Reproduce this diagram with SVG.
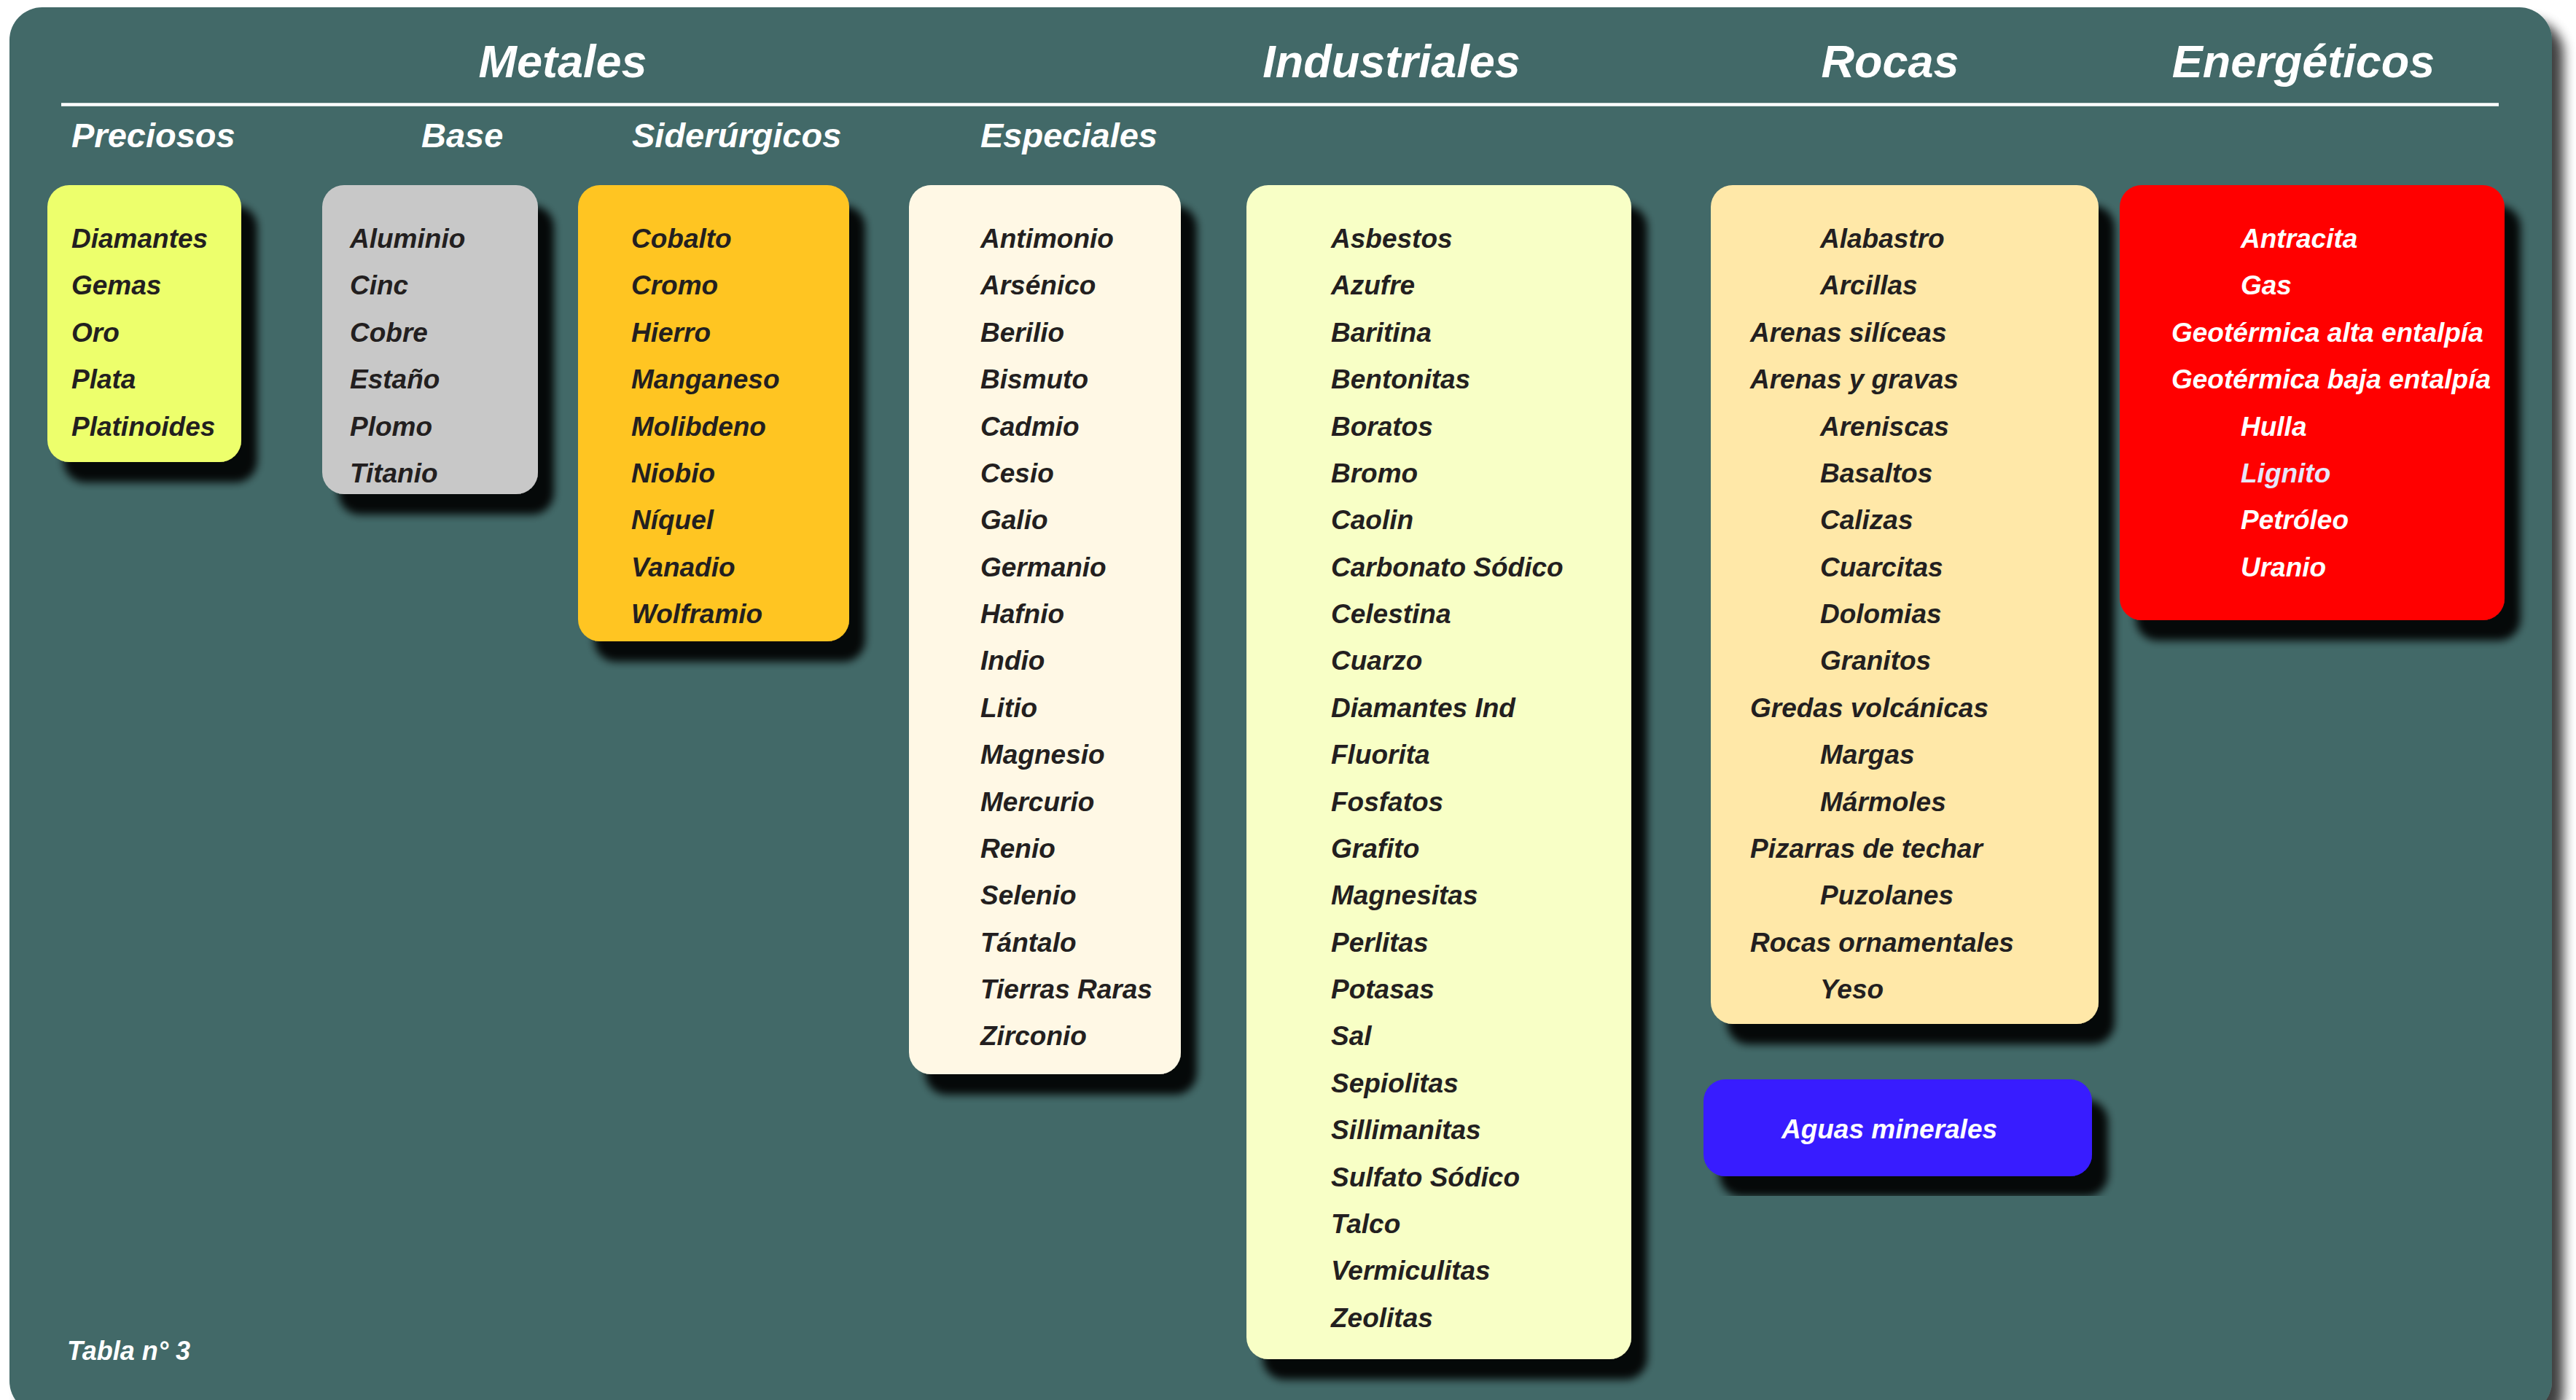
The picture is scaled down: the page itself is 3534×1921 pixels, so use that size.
<svg xmlns="http://www.w3.org/2000/svg" width="3534" height="1921" viewBox="0 0 3534 1921">
<style>
  text { font-family: "Liberation Sans", Arial, sans-serif; font-weight: bold; font-style: italic; }
  .h1 { font-size: 63px; fill: #ffffff; text-anchor: middle; }
  .h2 { font-size: 47px; fill: #ffffff; }
  .it { font-size: 37px; fill: #231f20; }
  .itw { font-size: 37px; fill: #ffffff; }
  .note { font-size: 36px; fill: #ffffff; }
  .box { filter: url(#sh); }
</style>
<defs>
  <filter id="sh" x="-10%" y="-10%" width="130%" height="130%">
    <feGaussianBlur in="SourceAlpha" stdDeviation="6"/>
    <feOffset dx="22" dy="28" result="o"/>
    <feComponentTransfer><feFuncA type="linear" slope="0.92"/></feComponentTransfer>
    <feMerge><feMergeNode/><feMergeNode in="SourceGraphic"/></feMerge>
  </filter>
  <filter id="psh" x="-5%" y="-5%" width="110%" height="110%">
    <feGaussianBlur in="SourceAlpha" stdDeviation="8"/>
    <feOffset dx="16" dy="18"/>
    <feComponentTransfer><feFuncA type="linear" slope="0.75"/></feComponentTransfer>
    <feMerge><feMergeNode/><feMergeNode in="SourceGraphic"/></feMerge>
  </filter>
</defs>
<rect width="3534" height="1921" fill="#ffffff"/>
<g id="panel">
  <rect x="13" y="10" width="3488" height="1930" rx="45" ry="45" fill="#426968" filter="url(#psh)"/>
</g>
<g id="headers">
  <text class="h1" x="772" y="106">Metales</text>
  <text class="h1" x="1909" y="106">Industriales</text>
  <text class="h1" x="2593" y="106">Rocas</text>
  <text class="h1" x="3160" y="106">Energéticos</text>
  <line x1="84" y1="143.5" x2="3428" y2="143.5" stroke="#ffffff" stroke-width="4.5"/>
  <text class="h2" x="98" y="202">Preciosos</text>
  <text class="h2" x="578" y="202">Base</text>
  <text class="h2" x="867" y="202">Siderúrgicos</text>
  <text class="h2" x="1345" y="202">Especiales</text>
</g>
<g id="connectors"></g>
<g id="preciosos">
  <rect class="box" x="65" y="254" width="266" height="380" rx="30" fill="#edff6c"/>
  <text class="it" y="340">
    <tspan x="98">Diamantes</tspan><tspan x="98" dy="64.38">Gemas</tspan><tspan x="98" dy="64.38">Oro</tspan><tspan x="98" dy="64.38">Plata</tspan><tspan x="98" dy="64.38">Platinoides</tspan>
  </text>
</g>
<g id="base">
  <rect class="box" x="442" y="254" width="296" height="424" rx="30" fill="#c8c8c8"/>
  <text class="it" y="340">
    <tspan x="480">Aluminio</tspan><tspan x="480" dy="64.38">Cinc</tspan><tspan x="480" dy="64.38">Cobre</tspan><tspan x="480" dy="64.38">Estaño</tspan><tspan x="480" dy="64.38">Plomo</tspan><tspan x="480" dy="64.38">Titanio</tspan>
  </text>
</g>
<g id="siderurgicos">
  <rect class="box" x="793" y="254" width="372" height="626" rx="30" fill="#ffc520"/>
  <text class="it" y="340">
    <tspan x="866">Cobalto</tspan><tspan x="866" dy="64.38">Cromo</tspan><tspan x="866" dy="64.38">Hierro</tspan><tspan x="866" dy="64.38">Manganeso</tspan><tspan x="866" dy="64.38">Molibdeno</tspan><tspan x="866" dy="64.38">Niobio</tspan><tspan x="866" dy="64.38">Níquel</tspan><tspan x="866" dy="64.38">Vanadio</tspan><tspan x="866" dy="64.38">Wolframio</tspan>
  </text>
</g>
<g id="especiales">
  <rect class="box" x="1247" y="254" width="373" height="1220" rx="30" fill="#fff8e5"/>
  <text class="it" y="340">
    <tspan x="1345">Antimonio</tspan><tspan x="1345" dy="64.38">Arsénico</tspan><tspan x="1345" dy="64.38">Berilio</tspan><tspan x="1345" dy="64.38">Bismuto</tspan><tspan x="1345" dy="64.38">Cadmio</tspan><tspan x="1345" dy="64.38">Cesio</tspan><tspan x="1345" dy="64.38">Galio</tspan><tspan x="1345" dy="64.38">Germanio</tspan><tspan x="1345" dy="64.38">Hafnio</tspan><tspan x="1345" dy="64.38">Indio</tspan><tspan x="1345" dy="64.38">Litio</tspan><tspan x="1345" dy="64.38">Magnesio</tspan><tspan x="1345" dy="64.38">Mercurio</tspan><tspan x="1345" dy="64.38">Renio</tspan><tspan x="1345" dy="64.38">Selenio</tspan><tspan x="1345" dy="64.38">Tántalo</tspan><tspan x="1345" dy="64.38">Tierras Raras</tspan><tspan x="1345" dy="64.38">Zirconio</tspan>
  </text>
</g>
<g id="industriales">
  <rect class="box" x="1710" y="254" width="528" height="1611" rx="30" fill="#f8ffc6"/>
  <text class="it" y="340">
    <tspan x="1826">Asbestos</tspan><tspan x="1826" dy="64.38">Azufre</tspan><tspan x="1826" dy="64.38">Baritina</tspan><tspan x="1826" dy="64.38">Bentonitas</tspan><tspan x="1826" dy="64.38">Boratos</tspan><tspan x="1826" dy="64.38">Bromo</tspan><tspan x="1826" dy="64.38">Caolin</tspan><tspan x="1826" dy="64.38">Carbonato Sódico</tspan><tspan x="1826" dy="64.38">Celestina</tspan><tspan x="1826" dy="64.38">Cuarzo</tspan><tspan x="1826" dy="64.38">Diamantes Ind</tspan><tspan x="1826" dy="64.38">Fluorita</tspan><tspan x="1826" dy="64.38">Fosfatos</tspan><tspan x="1826" dy="64.38">Grafito</tspan><tspan x="1826" dy="64.38">Magnesitas</tspan><tspan x="1826" dy="64.38">Perlitas</tspan><tspan x="1826" dy="64.38">Potasas</tspan><tspan x="1826" dy="64.38">Sal</tspan><tspan x="1826" dy="64.38">Sepiolitas</tspan><tspan x="1826" dy="64.38">Sillimanitas</tspan><tspan x="1826" dy="64.38">Sulfato Sódico</tspan><tspan x="1826" dy="64.38">Talco</tspan><tspan x="1826" dy="64.38">Vermiculitas</tspan><tspan x="1826" dy="64.38">Zeolitas</tspan>
  </text>
</g>
<g id="rocas">
  <rect class="box" x="2347" y="254" width="532" height="1151" rx="30" fill="#ffe8a8"/>
  <text class="it" y="340">
    <tspan x="2497">Alabastro</tspan><tspan x="2497" dy="64.38">Arcillas</tspan><tspan x="2401" dy="64.38">Arenas silíceas</tspan><tspan x="2401" dy="64.38">Arenas y gravas</tspan><tspan x="2497" dy="64.38">Areniscas</tspan><tspan x="2497" dy="64.38">Basaltos</tspan><tspan x="2497" dy="64.38">Calizas</tspan><tspan x="2497" dy="64.38">Cuarcitas</tspan><tspan x="2497" dy="64.38">Dolomias</tspan><tspan x="2497" dy="64.38">Granitos</tspan><tspan x="2401" dy="64.38">Gredas volcánicas</tspan><tspan x="2497" dy="64.38">Margas</tspan><tspan x="2497" dy="64.38">Mármoles</tspan><tspan x="2401" dy="64.38">Pizarras de techar</tspan><tspan x="2497" dy="64.38">Puzolanes</tspan><tspan x="2401" dy="64.38">Rocas ornamentales</tspan><tspan x="2497" dy="64.38">Yeso</tspan>
  </text>
</g>
<g id="energeticos">
  <rect class="box" x="2908" y="254" width="528" height="597" rx="30" fill="#ff0000"/>
  <text class="itw" y="340">
    <tspan x="3074">Antracita</tspan><tspan x="3074" dy="64.38">Gas</tspan><tspan x="2979" dy="64.38">Geotérmica alta entalpía</tspan><tspan x="2979" dy="64.38">Geotérmica baja entalpía</tspan><tspan x="3074" dy="64.38">Hulla</tspan><tspan x="3074" dy="64.38" fill="#e6e6fa">Lignito</tspan><tspan x="3074" dy="64.38">Petróleo</tspan><tspan x="3074" dy="64.38">Uranio</tspan>
  </text>
</g>
<g id="aguas-minerales">
  <rect class="box" x="2337" y="1481" width="533" height="133" rx="30" fill="#391bff"/>
  <text class="itw" x="2592" y="1562" text-anchor="middle">Aguas minerales</text>
</g>
<g id="nota">
  <text class="note" x="92" y="1866">Tabla n° 3</text>
</g>
</svg>
